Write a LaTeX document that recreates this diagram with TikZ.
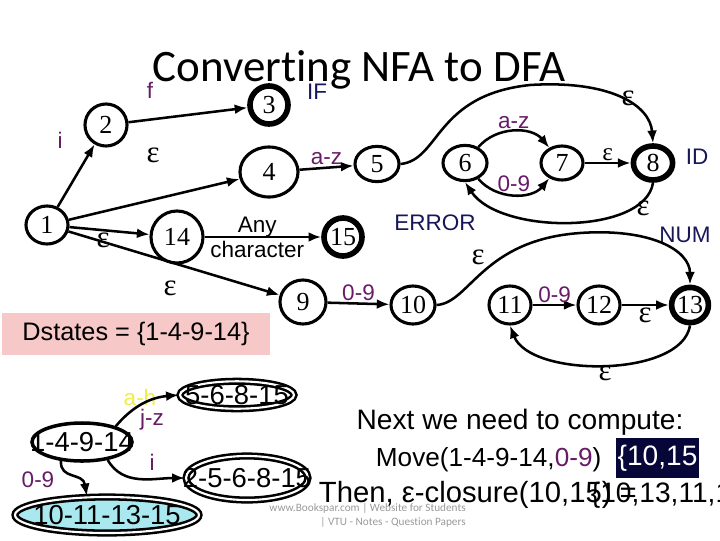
\documentclass[tikz,border=0pt]{standalone}
\usepackage{fontspec}
\usetikzlibrary{arrows.meta,shapes.geometric}
\setmainfont{Liberation Sans}
\newfontfamily\tms{Liberation Serif}
\newfontfamily\calfont[Ligatures={NoCommon,NoContextual}]{Carlito}
\definecolor{lblpurple}{RGB}{102,28,102}
\definecolor{tagnavy}{RGB}{22,22,88}
\definecolor{lblyellow}{RGB}{238,238,70}
\definecolor{boxpink}{RGB}{246,200,200}
\definecolor{dfacyan}{RGB}{170,232,240}
\definecolor{hlnavy}{RGB}{6,6,56}
\newcommand{\ovr}[1]{\makebox[0pt]{#1}}

\begin{document}
\begin{tikzpicture}[x=0.025cm, y=0.025cm, >={Latex[length=9pt,width=7pt]}, line width=1.8pt,
    st/.style={draw, ellipse, line width=2.2pt, inner sep=0pt, font=\tms\fontsize{18.5}{18.5}\selectfont},
    acc/.style={st, line width=4pt},
    lbl/.style={text=lblpurple, font=\fontsize{16}{16}\selectfont, inner sep=1pt},
    tag/.style={text=tagnavy, font=\fontsize{16}{16}\selectfont},
    eps/.style={font=\tms\fontsize{22}{22}\selectfont, inner sep=1pt},
    dst/.style={draw, ellipse, line width=2.5pt, inner sep=0pt, font=\fontsize{19.5}{20}\selectfont},
    dacc/.style={dst, line width=1.8pt, double=white, double distance=1.5pt},
    txt/.style={font=\fontsize{20}{22}\selectfont}]
  \useasboundingbox (0,0) rectangle (720,-540);
  \node[anchor=base, font=\calfont\fontsize{32}{32}\selectfont] (title) at (359,-81) {Convert\kern0pt ing NFA to DFA};

  % NFA states
  \node[st, minimum width=1.05cm, minimum height=0.95cm] (n1) at (47,-225) {1};
  \node[st, minimum width=1.05cm, minimum height=1.05cm] (n2) at (106,-125) {2};
  \node[acc, minimum width=0.95cm, minimum height=0.95cm] (n3) at (269,-105) {3};
  \node[st, minimum width=1.45cm, minimum height=1.25cm] (n4) at (269,-172) {4};
  \node[st, minimum width=1.3cm, minimum height=1.3cm] (n14) at (177,-237) {14};
  \node[acc, minimum width=0.95cm, minimum height=0.95cm] (n15) at (343,-237) {15};
  \node[st, minimum width=1.1cm, minimum height=0.88cm] (n5) at (377,-164) {5};
  \node[st, minimum width=1.15cm, minimum height=1.1cm] (n9) at (303,-302) {9};
  \node[st, minimum width=1.1cm, minimum height=0.95cm] (n10) at (413,-305) {10};
  \node[st, minimum width=1.1cm, minimum height=0.88cm] (n6) at (465,-163) {6};
  \node[st, minimum width=1.05cm, minimum height=0.85cm] (n7) at (562,-163) {7};
  \node[acc, minimum width=0.98cm, minimum height=0.85cm] (n8) at (653,-163) {8};
  \node[st, minimum width=1.05cm, minimum height=0.95cm] (n11) at (510,-305) {11};
  \node[st, minimum width=1.05cm, minimum height=0.95cm] (n12) at (599,-305) {12};
  \node[acc, minimum width=0.92cm, minimum height=0.88cm] (n13) at (690,-305) {13};

  \node[lbl] (lf) at (150,-90) {f};
  \node[lbl] (li) at (60,-140) {i};
  \node[tag] (tif) at (317,-92) {IF};
  \node[tag] (terr) at (435,-223) {ERROR};
  \node[tag] (tid) at (697,-157) {ID};
  \node[tag] (tnum) at (685,-235) {NUM};
  \node[eps] (e14) at (153,-155) {ε};
  \node[eps] (e19) at (170,-288) {ε};
  \node[eps] (e58) at (628,-98) {ε};
  \node[eps] (e86) at (643,-208) {ε};
  \node[eps] (e1013) at (478,-257) {ε};
  \node[eps] (e1311) at (605,-373) {ε};

  \draw[->] (n1) -- (n2);
  \draw[->] (n2) -- (n3);
  \draw[->] (n1) -- (n4);
  \draw[->] (n1) -- node[below, pos=0.42, eps] {ε} (n14);
  \draw[->] (n1) -- (n9);
  \draw[->] (n4) -- node[above, lbl] {a-z} (n5);
  \draw[->] (n14) -- node[align=center, font=\fontsize{16}{17.8}\selectfont, xshift=-4pt] {Any\\character} (n15);
  \draw[->] (n9) -- node[above, lbl] {0-9} (n10);
  \draw[->] (n6) to[bend left=50] node[above, lbl] {a-z} (n7);
  \draw[->] (n6) to[bend right=50] node[above, lbl] {0-9} (n7);
  \draw[->] (n7) -- node[above, eps, font=\tms\fontsize{18}{18}\selectfont] {ε} (n8);
  \draw[->] (n11) -- node[above, lbl] {0-9} (n12);
  \draw[->] (n12) -- node[below, eps] {ε} (n13);
  \draw[->] (n5.east) .. controls (440,-160) and (435,-95) .. (530,-85)
    .. controls (610,-80) and (650,-105) .. (n8.north);
  \draw[->] (n8.south) .. controls (645,-235) and (500,-235) .. (n6.south);
  \draw[->] (n10.east) .. controls (470,-303) and (482,-240) .. (580,-233)
    .. controls (650,-228) and (690,-250) .. (n13.north);
  \draw[->] (n13.south) .. controls (682,-378) and (530,-378) .. (n11.south);

  \node[fill=boxpink, minimum width=6.7cm, minimum height=1.07cm, font=\fontsize{18}{18}\selectfont] (dsts) at (136,-334) {Dstates = \{1-4-9-14\}};

  % DFA states
  \node[dst, minimum width=2.5cm, minimum height=0.95cm] (d1) at (82,-442) {\ovr{1-4-9-14}};
  \node[dacc, minimum width=2.85cm, minimum height=0.65cm] (d2) at (237,-395) {\ovr{5-6-8-15}};
  \node[dacc, minimum width=3.05cm, minimum height=1.1cm] (d3) at (247,-478) {\ovr{2-5-6-8-15}};
  \node[dacc, fill=dfacyan, minimum width=4.6cm, minimum height=0.9cm] (d4) at (107,-515) {\ovr{10-11-13-15}};

  \node[lbl, text=lblyellow] (lah) at (140,-397) {a-h};
  \node[lbl] (ljz) at (152,-420) {j-z};
  \node[lbl] (li2) at (152,-462) {i};
  \node[lbl] (l09) at (38,-480) {0-9};

  \draw[->] (d1.25) to[out=50, in=185] (d2.west);
  \draw[->] (d1.-35) to[out=-60, in=180] (d3.west);
  \draw[->] (d1.-138) .. controls (60,-480) and (83,-472) .. (d4.137);

  \node[txt] (next) at (520,-422) {Next we need to compute:};
  \node[txt, anchor=base west, font=\fontsize{18.6}{20}\selectfont] (move) at (370,-466) {Move(1-4-9-14,\textcolor{lblpurple}{0-9})};
  \node[txt, anchor=west, fill=hlnavy, text=white, inner sep=1pt, minimum height=1.02cm] (mres) at (615,-458) {\{10,15};
  \node[txt, anchor=base west, font=\fontsize{20.8}{22}\selectfont] (clo) at (313,-502) {Then, ε-closure(10,15) =};
  \node[txt, anchor=base west] (cres) at (585,-502) {\{10,13,11,15\}};

  \node[anchor=north east, align=right, text=gray!80, font=\calfont\fontsize{8}{10}\selectfont, inner sep=0pt] (wm) at (467,-502) {www.Bookspar.com | Website for Students\\| VTU - Notes - Question Papers};
\end{tikzpicture}
\end{document}
